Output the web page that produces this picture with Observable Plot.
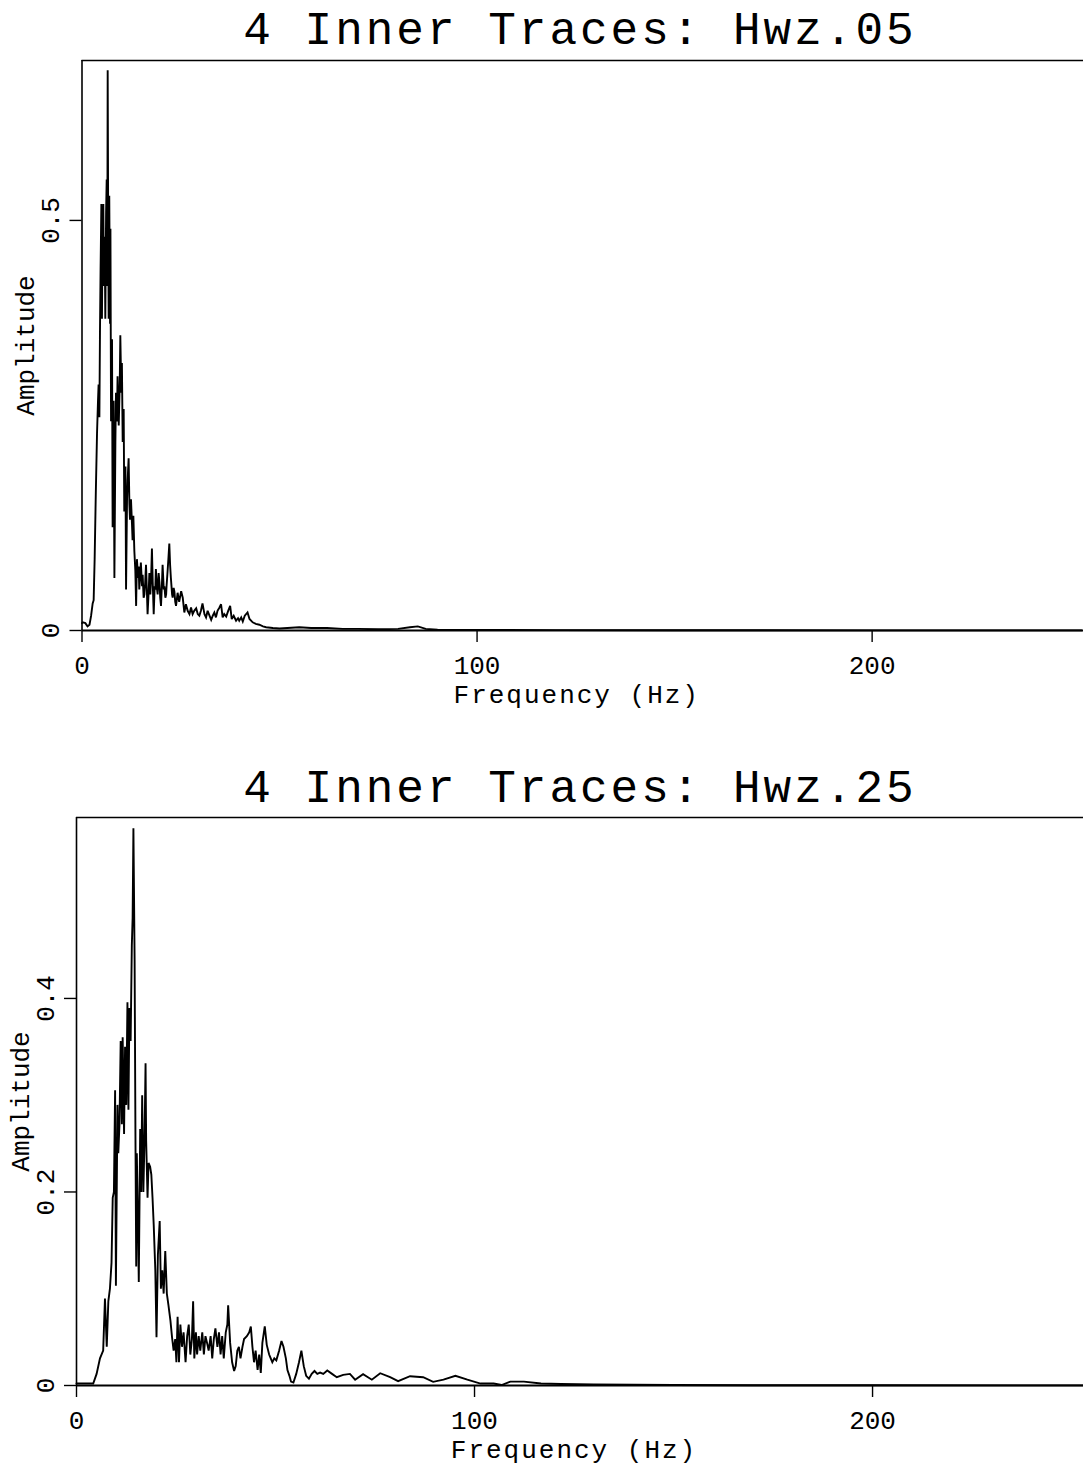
<!DOCTYPE html>
<html>
<head>
<meta charset="utf-8">
<script src="https://cdn.jsdelivr.net/npm/d3@7"></script>
<script src="https://cdn.jsdelivr.net/npm/@observablehq/plot@0.6"></script>
<style>
  html, body { margin: 0; padding: 0; background: #fff; }
  body { width: 1083px; height: 1467px; position: relative; overflow: hidden; font-family: "Liberation Mono", "DejaVu Sans Mono", monospace; }
  .title { position: absolute; left: 0; width: 1160px; text-align: center; font-size: 46px; line-height: 46px; letter-spacing: 3px; color: #000; white-space: nowrap; }
  .panel { position: absolute; left: 0; }
</style>
</head>
<body>
<div id="title1" class="title" style="top:9px"></div>
<div id="panel1" class="panel" style="top:55px"></div>
<div id="title2" class="title" style="top:767px"></div>
<div id="panel2" class="panel" style="top:810px"></div>
<script>
// ---------------- data ----------------
const titles = ["4 Inner Traces: Hwz.05", "4 Inner Traces: Hwz.25"];
const xTicks = [0, 100, 200];
const yTicksTop = [0, 0.5];
const yTicksBottom = [0, 0.2, 0.4];
const xLabel = "Frequency (Hz)";
const yLabel = "Amplitude";

// [frequency (Hz), amplitude] (Hwz.05)
const spectrumHwz05 = [
  [0,0.009],[0.2,0.010],[0.85,0.009],[1.4,0.005],[1.9,0.007],[2.3,0.018],[2.7,0.033],[2.95,0.037],
  [3.2,0.087],[3.5,0.169],[3.8,0.24],[4.05,0.28],[4.2,0.30],[4.4,0.26],[4.55,0.365],[4.7,0.44],
  [4.9,0.52],[5.05,0.38],[5.2,0.48],[5.4,0.52],[5.55,0.42],[5.75,0.48],[5.9,0.38],[6.1,0.51],
  [6.25,0.55],[6.4,0.42],[6.5,0.683],[6.65,0.47],[6.75,0.38],[6.9,0.53],[7.1,0.374],[7.2,0.49],
  [7.35,0.255],[7.6,0.355],[7.75,0.126],[8.0,0.28],[8.2,0.064],[8.45,0.23],[8.6,0.29],[8.85,0.255],
  [9.0,0.31],[9.3,0.25],[9.55,0.30],[9.7,0.36],[9.95,0.29],[10.1,0.326],[10.3,0.23],[10.55,0.27],
  [10.7,0.145],[11.0,0.20],[11.15,0.05],[11.4,0.16],[11.55,0.183],[11.8,0.21],[12.0,0.154],[12.15,0.135],
  [12.4,0.16],[12.65,0.13],[12.8,0.11],[13.0,0.14],[13.25,0.097],[13.5,0.073],[13.7,0.03],[13.9,0.087],
  [14.2,0.064],[14.35,0.078],[14.5,0.05],[14.8,0.073],[14.9,0.083],[15.2,0.054],[15.35,0.068],[15.6,0.04],
  [15.8,0.044],[16.0,0.059],[16.2,0.08],[16.45,0.044],[16.6,0.02],[16.9,0.05],[17.05,0.07],[17.3,0.044],
  [17.5,0.065],[17.7,0.10],[17.9,0.059],[18.15,0.02],[18.4,0.054],[18.55,0.05],[18.7,0.075],[19.0,0.05],
  [19.15,0.044],[19.4,0.07],[19.6,0.059],[19.8,0.04],[20.0,0.03],[20.25,0.059],[20.4,0.08],[20.7,0.05],
  [20.85,0.054],[21.1,0.04],[21.3,0.044],[21.4,0.054],[21.7,0.075],[21.9,0.09],[22.1,0.106],[22.3,0.08],
  [22.5,0.064],[22.8,0.044],[22.95,0.04],[23.2,0.052],[23.4,0.047],[23.6,0.035],[23.8,0.03],[24.2,0.046],
  [24.6,0.035],[25.1,0.048],[25.5,0.04],[25.9,0.022],[26.3,0.032],[26.75,0.024],[27.2,0.02],[27.6,0.028],
  [28.0,0.02],[28.4,0.024],[28.9,0.027],[29.3,0.02],[29.7,0.018],[30.1,0.024],[30.5,0.033],[31.0,0.02],
  [31.4,0.016],[31.8,0.024],[32.2,0.019],[32.7,0.013],[33.1,0.018],[33.5,0.022],[33.9,0.016],[34.3,0.024],
  [34.8,0.028],[35.2,0.032],[35.6,0.016],[36.0,0.02],[36.5,0.017],[37.0,0.024],[37.5,0.03],[37.9,0.014],
  [38.4,0.018],[39.0,0.012],[39.5,0.015],[39.8,0.012],[40.3,0.016],[40.7,0.011],[41.2,0.018],[41.9,0.022],
  [42.4,0.014],[43.2,0.01],[44.0,0.008],[44.9,0.007],[45.8,0.005],[46.6,0.004],[48.3,0.003],[50,0.0025],
  [52,0.003],[55,0.004],[58,0.003],[62,0.003],[66,0.002],[70,0.002],[75,0.0015],[80,0.002],
  [83,0.004],[85,0.005],[87,0.002],[90,0.001],[100,0.0008],[120,0.0005],[150,0.0003],[200,0.0002],[253,0.0001]
];

// [frequency (Hz), amplitude] (Hwz.25)
const spectrumHwz25 = [
  [0,0.002],[1.7,0.002],[4.2,0.002],[5.05,0.012],[5.9,0.028],[6.7,0.036],[7.15,0.09],[7.6,0.04],
  [8.0,0.087],[8.4,0.10],[8.8,0.127],[9.1,0.194],[9.4,0.20],[9.7,0.305],[9.9,0.103],[10.3,0.29],
  [10.5,0.24],[10.8,0.27],[11.1,0.356],[11.4,0.27],[11.6,0.36],[11.95,0.26],[12.2,0.35],[12.5,0.29],
  [12.8,0.396],[13.05,0.285],[13.3,0.39],[13.6,0.356],[13.9,0.455],[14.1,0.483],[14.3,0.576],[14.6,0.44],
  [14.8,0.265],[15.0,0.123],[15.15,0.24],[15.4,0.18],[15.65,0.107],[16.0,0.265],[16.25,0.2],[16.5,0.30],
  [16.8,0.2],[17.1,0.257],[17.35,0.333],[17.5,0.253],[17.85,0.194],[18.1,0.23],[18.5,0.226],[18.8,0.218],
  [19.1,0.194],[19.4,0.166],[19.8,0.119],[20.1,0.05],[20.45,0.135],[20.9,0.17],[21.2,0.10],[21.55,0.119],
  [21.9,0.095],[22.3,0.139],[22.7,0.095],[23.1,0.083],[23.6,0.067],[24.0,0.05],[24.4,0.036],[24.8,0.048],
  [25.1,0.024],[25.4,0.071],[25.75,0.024],[26.1,0.063],[26.5,0.04],[26.9,0.055],[27.4,0.024],[27.8,0.051],
  [28.2,0.063],[28.6,0.032],[29.0,0.048],[29.3,0.087],[29.6,0.028],[30.0,0.055],[30.3,0.032],[30.7,0.051],
  [31.1,0.036],[31.6,0.055],[32.0,0.032],[32.4,0.051],[32.8,0.044],[33.2,0.036],[33.7,0.051],[34.1,0.028],
  [34.5,0.048],[34.9,0.059],[35.4,0.040],[35.8,0.055],[36.2,0.032],[36.6,0.051],[37.0,0.028],[37.5,0.055],
  [37.9,0.063],[38.1,0.083],[38.6,0.044],[39.1,0.024],[39.6,0.015],[40.0,0.020],[40.4,0.036],[40.8,0.040],
  [41.2,0.028],[41.7,0.040],[42.1,0.048],[42.8,0.051],[43.4,0.055],[43.8,0.061],[44.2,0.040],[44.6,0.024],
  [45.0,0.036],[45.5,0.016],[45.9,0.032],[46.3,0.013],[46.7,0.044],[47.3,0.061],[47.8,0.042],[48.4,0.032],
  [48.8,0.028],[49.2,0.024],[49.7,0.028],[50.2,0.026],[50.9,0.036],[51.5,0.046],[52.0,0.040],[52.6,0.028],
  [53.0,0.016],[53.5,0.010],[53.9,0.004],[54.5,0.003],[55.2,0.012],[55.9,0.024],[56.5,0.036],[57.1,0.02],
  [57.7,0.01],[58.4,0.007],[59.1,0.012],[59.8,0.015],[60.5,0.012],[61.2,0.0134],[62,0.012],[63,0.0155],
  [64.2,0.012],[65.4,0.0086],[67,0.011],[68.7,0.012],[70,0.006],[72,0.0117],[74.2,0.006],[76.3,0.0127],
  [78.8,0.0086],[80.8,0.0045],[83.8,0.0096],[87.1,0.0086],[89.6,0.0038],[92.2,0.006],[95.2,0.010],[98.2,0.006],
  [101.5,0.002],[104.8,0.002],[106.8,0.0005],[109,0.004],[112.4,0.004],[116.7,0.002],[121.7,0.0015],[130,0.001],
  [140,0.0008],[150,0.0005],[170,0.0003],[200,0.0002],[253,0.0001]
];

// ---------------- drawing ----------------
function panel({data, xMax, yMax, yTicks, height, marginLeft, marginTop, marginBottom}) {
  const chart = Plot.plot({
    width: 1083,
    height,
    marginLeft,
    marginRight: 0,
    marginTop,
    marginBottom,
    x: {domain: [0, xMax]},
    y: {domain: [0, yMax]},
    style: {background: "#fff", color: "#000", fontFamily: "'Liberation Mono', 'DejaVu Sans Mono', monospace", fontSize: "24px", overflow: "visible"},
    marks: [
      Plot.ruleY([yMax], {stroke: "#000", strokeWidth: 1.6}),
      Plot.ruleX([0], {stroke: "#000", strokeWidth: 1.6}),
      Plot.ruleY([0], {stroke: "#000", strokeWidth: 1.8}),
      Plot.axisX({ticks: xTicks, tickSize: 12, tickPadding: 13, tickFormat: d => String(d), fontSize: 26, label: null, stroke: "#000", strokeWidth: 1.4}),
      Plot.axisY({ticks: yTicks, tickSize: 12, tickFormat: () => "", label: null, stroke: "#000", strokeWidth: 1.4}),
      Plot.text(yTicks, {y: d => d, frameAnchor: "left", dx: -31, rotate: -90, text: d => String(d), fontSize: 26, textAnchor: "middle", lineAnchor: "middle"}),
      Plot.text([yLabel], {frameAnchor: "left", dx: -56, rotate: -90, text: d => d, fontSize: 26, textAnchor: "middle", lineAnchor: "middle"}),
      Plot.text([xLabel], {frameAnchor: "bottom", dy: 64, dx: -6, text: d => d, fontSize: 26, textAnchor: "middle", lineAnchor: "middle"}),
      Plot.line(data, {x: d => d[0], y: d => d[1], stroke: "#000", strokeWidth: 1.9, strokeLinejoin: "miter", strokeMiterlimit: 3, curve: "linear"})
    ]
  });
  d3.select(chart).selectAll("text").filter(function() { return this.textContent === xLabel; }).style("letter-spacing", "2px");
  return chart;
}

document.getElementById("title1").textContent = titles[0];
document.getElementById("title2").textContent = titles[1];

document.getElementById("panel1").appendChild(panel({
  data: spectrumHwz05, xMax: 253.5, yMax: 0.695, yTicks: yTicksTop,
  height: 680, marginLeft: 81.5, marginTop: 5, marginBottom: 105
}));

document.getElementById("panel2").appendChild(panel({
  data: spectrumHwz25, xMax: 253, yMax: 0.587, yTicks: yTicksBottom,
  height: 657, marginLeft: 76, marginTop: 7, marginBottom: 82
}));
</script>
</body>
</html>
